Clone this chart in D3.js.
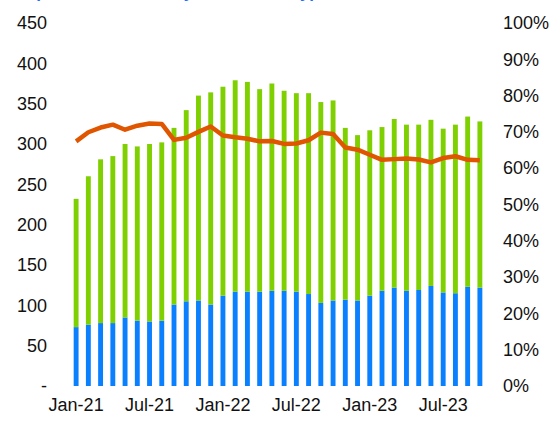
<!DOCTYPE html>
<html>
<head>
<meta charset="utf-8">
<script src="https://cdn.jsdelivr.net/npm/d3@7"></script>
<style>
  body { margin: 0; background: #fff; }
  svg { display: block; font-family: Arial, "Liberation Sans", sans-serif; }
</style>
</head>
<body>
<svg width="553" height="426"></svg>
<script>
// months Jan-21 .. Oct-23
const months = ["Jan-21","Feb-21","Mar-21","Apr-21","May-21","Jun-21","Jul-21","Aug-21","Sep-21","Oct-21","Nov-21","Dec-21",
  "Jan-22","Feb-22","Mar-22","Apr-22","May-22","Jun-22","Jul-22","Aug-22","Sep-22","Oct-22","Nov-22","Dec-22",
  "Jan-23","Feb-23","Mar-23","Apr-23","May-23","Jun-23","Jul-23","Aug-23","Sep-23","Oct-23"];
// blue (bottom) series
const blueVals = [73, 76, 78, 78, 85, 81, 80, 81, 101, 105, 106, 101,
  112, 117, 117, 117, 118, 118, 117, 114, 103, 106, 107, 106,
  112, 118, 122, 118, 119, 124, 116, 115, 123, 122];
// bar totals (blue + green)
const totalVals = [232, 260, 281, 285, 300, 297, 300, 302, 320, 342, 360, 364,
  371, 379, 377, 368, 375, 366, 363, 363, 352, 354, 320, 311,
  317, 321, 331, 324, 324, 330, 319, 324, 334, 328];
const greenVals = totalVals.map((t, i) => t - blueVals[i]);
// share line (right axis, %)
const shareVals = [67.4, 69.9, 71.2, 72.0, 70.6, 71.7, 72.3, 72.2, 67.8, 68.4, 70.0, 71.5,
  69.0, 68.5, 68.1, 67.4, 67.5, 66.7, 66.8, 67.7, 69.8, 69.4, 65.7, 65.1,
  63.7, 62.3, 62.5, 62.7, 62.4, 61.6, 62.8, 63.3, 62.3, 62.2];
const leftTicks = [0, 50, 100, 150, 200, 250, 300, 350, 400, 450];
const rightTicks = [0, 10, 20, 30, 40, 50, 60, 70, 80, 90, 100];
const xLabels = ["Jan-21", "Jul-21", "Jan-22", "Jul-22", "Jan-23", "Jul-23"];

const svg = d3.select("svg");
const margin = { top: 23, right: 67, bottom: 40, left: 70 };
const width = 553 - margin.left - margin.right;
const height = 426 - margin.top - margin.bottom;

const g = svg.append("g").attr("transform", `translate(${margin.left},${margin.top})`);

const x = d3.scaleBand().domain(months).range([0, width]).paddingInner(0.6).paddingOuter(0.3);
const y = d3.scaleLinear().domain([0, 450]).range([height, 0]);
const y2 = d3.scaleLinear().domain([0, 100]).range([height, 0]);

// title (cut off at the top in the source)
svg.append("text")
  .attr("x", 25).attr("y", -2)
  .attr("fill", "#1f6dff")
  .style("font-weight", "bold")
  .style("font-size", "17px")
  .text("Spot transactions by transaction type");

// stacked bars
g.selectAll("rect.blue")
  .data(months)
  .enter().append("rect")
  .attr("class", "blue")
  .attr("x", d => x(d))
  .attr("width", x.bandwidth())
  .attr("y", (d, i) => y(blueVals[i]))
  .attr("height", (d, i) => y(0) - y(blueVals[i]))
  .attr("fill", "#0a80ff");

g.selectAll("rect.green")
  .data(months)
  .enter().append("rect")
  .attr("class", "green")
  .attr("x", d => x(d))
  .attr("width", x.bandwidth())
  .attr("y", (d, i) => y(blueVals[i] + greenVals[i]))
  .attr("height", (d, i) => y(blueVals[i]) - y(blueVals[i] + greenVals[i]))
  .attr("fill", "#7fd000");

// share line
const line = d3.line()
  .x((d, i) => x(months[i]) + x.bandwidth() / 2)
  .y(d => y2(d));
g.append("path")
  .datum(shareVals)
  .attr("d", line)
  .attr("fill", "none")
  .attr("stroke", "#e05500")
  .attr("stroke-width", 4.5)
  .attr("stroke-linejoin", "round");

// left axis
const yAxis = d3.axisLeft(y).tickValues(leftTicks).tickSize(0).tickPadding(23)
  .tickFormat(d => d === 0 ? "-" : d);
g.append("g").call(yAxis)
  .call(a => a.select(".domain").remove())
  .selectAll("text").style("font-size", "18px").attr("fill", "#111").attr("font-family", null);

// right axis
const yAxis2 = d3.axisRight(y2).tickValues(rightTicks).tickSize(0).tickPadding(17)
  .tickFormat(d => d + "%");
g.append("g").attr("transform", `translate(${width},0)`).call(yAxis2)
  .call(a => a.select(".domain").remove())
  .selectAll("text").style("font-size", "18px").attr("fill", "#111").attr("font-family", null);

// x axis
const xAxis = d3.axisBottom(x).tickValues(xLabels).tickSize(0).tickPadding(12);
g.append("g").attr("transform", `translate(0,${height})`).call(xAxis)
  .call(a => a.select(".domain").remove())
  .selectAll("text").style("font-size", "18px").attr("fill", "#111").attr("font-family", null);
</script>
</body>
</html>
